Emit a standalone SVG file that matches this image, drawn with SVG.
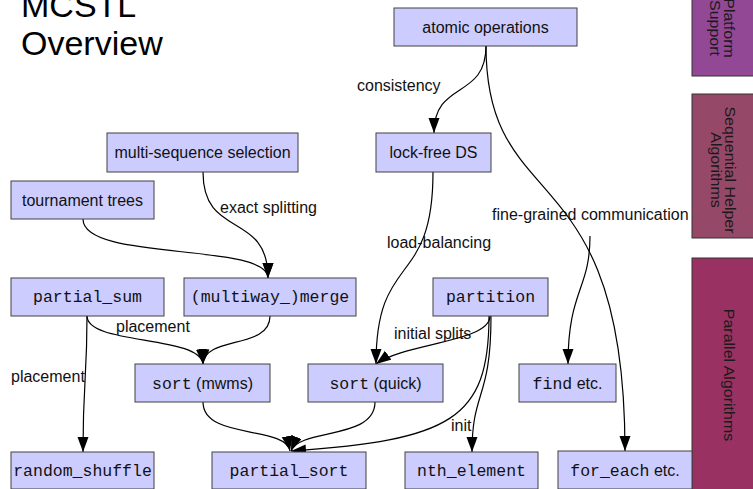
<svg xmlns="http://www.w3.org/2000/svg" width="753" height="489" viewBox="0 0 753 489">
<style>
.box{fill:#ccccff;stroke:#404040;stroke-width:1}
.t{font-family:"Liberation Sans",Arial,sans-serif;font-size:16px;fill:#111;text-anchor:middle}
.m{font-family:"Liberation Mono","Courier New",monospace;font-size:16.5px}
.lbl{font-family:"Liberation Sans",Arial,sans-serif;font-size:16px;fill:#111}
.e{fill:none;stroke:#000;stroke-width:1.2;marker-end:url(#ah)}
.bar{stroke:#333;stroke-width:1}
.bt{font-family:"Liberation Sans",Arial,sans-serif;font-size:16px;fill:#1a1a1a;text-anchor:middle}
.title{font-family:"Liberation Sans",Arial,sans-serif;font-size:34px;fill:#000}
</style>
<defs>
<marker id="ah" markerUnits="userSpaceOnUse" markerWidth="16" markerHeight="12" refX="15" refY="5.5" orient="auto"><path d="M0,0 L15,5.5 L0,11 z" fill="#000"/></marker>
</defs>
<rect width="753" height="489" fill="#fff"/>
<g id="title">
<text class="title" x="21" y="17">MCSTL</text>
<text class="title" x="21" y="55">Overview</text>
</g>
<g id="bars">
<g id="platform-support">
<rect class="bar" x="692" y="-30" width="70" height="106" fill="#924895"/>
<text class="bt" transform="translate(724,28) rotate(90) scale(1,0.9)">Platform</text>
<text class="bt" transform="translate(710,28) rotate(90) scale(1,0.9)">Support</text>
</g>
<g id="sequential-helper">
<rect class="bar" x="692" y="94" width="70" height="144" fill="#954868"/>
<text class="bt" transform="translate(725,170) rotate(90) scale(1,0.9)">Sequential Helper</text>
<text class="bt" transform="translate(711,170) rotate(90) scale(1,0.9)">Algorithms</text>
</g>
<g id="parallel-algorithms">
<rect class="bar" x="692" y="258" width="70" height="240" fill="#993262"/>
<text class="bt" transform="translate(724,375) rotate(90) scale(1,0.9)">Parallel Algorithms</text>
</g>
</g>
<g id="connectors">
<path class="e" d="M486,46 C486,100 434,80 434,133"/>
<path class="e" d="M486,46 C486,220 625,150 625,451"/>
<path class="e" d="M590,236 C590,290 568,290 568,364"/>
<path class="e" d="M203,172 C203,240 268,210 268,278"/>
<path class="e" d="M83,219 C83,262 268,242 268,278"/>
<path class="e" d="M433,172 C433,290 376,250 376,364"/>
<path class="e" d="M490,316 C490,342 405,343 376,364"/>
<path class="e" d="M489,316 C489,420 450,440 291,451"/>
<path class="e" d="M491,316 C491,400 472,390 472,452"/>
<path class="e" d="M375,402 C375,440 300,428 291,451"/>
<path class="e" d="M203,402 C203,440 285,425 290,451"/>
<path class="e" d="M87,316 C87,345 200,335 203,364"/>
<path class="e" d="M270,316 C270,350 205,335 203,364"/>
<path class="e" d="M87,316 C87,380 83,380 83,452"/>
<text class="lbl" x="357" y="91">consistency</text>
<text class="lbl" x="492" y="220">fine-grained communication</text>
<text class="lbl" x="220" y="213">exact splitting</text>
<text class="lbl" x="387" y="248">load-balancing</text>
<text class="lbl" x="394" y="339">initial splits</text>
<text class="lbl" x="116" y="332">placement</text>
<text class="lbl" x="11" y="382">placement</text>
<text class="lbl" x="451" y="431">init</text>
</g>
<g id="atomic-operations"><rect class="box" x="394" y="8" width="183" height="38"/><text class="t" x="485.5" y="33">atomic operations</text></g>
<g id="multi-sequence-selection"><rect class="box" x="107" y="133" width="191" height="39"/><text class="t" x="202.5" y="158">multi-sequence selection</text></g>
<g id="lock-free-ds"><rect class="box" x="376" y="133" width="115" height="39"/><text class="t" x="433.5" y="158">lock-free DS</text></g>
<g id="tournament-trees"><rect class="box" x="11" y="181" width="143" height="38"/><text class="t" x="82.5" y="206">tournament trees</text></g>
<g id="partial-sum"><rect class="box" x="11" y="278" width="153" height="38"/><text class="t m" x="87.5" y="302">partial_sum</text></g>
<g id="multiway-merge"><rect class="box" x="184" y="278" width="172" height="38"/><text class="t m" x="270" y="302">(multiway_)merge</text></g>
<g id="partition"><rect class="box" x="433" y="278" width="115" height="38"/><text class="t m" x="490.5" y="302">partition</text></g>
<g id="sort-mwms"><rect class="box" x="135" y="364" width="135" height="38"/><text class="t" x="202.5" y="389"><tspan class="m">sort</tspan> (mwms)</text></g>
<g id="sort-quick"><rect class="box" x="308" y="364" width="135" height="38"/><text class="t" x="375.5" y="389"><tspan class="m">sort</tspan> (quick)</text></g>
<g id="find"><rect class="box" x="519" y="364" width="97" height="38"/><text class="t" x="567.5" y="389"><tspan class="m">find</tspan> etc.</text></g>
<g id="random-shuffle"><rect class="box" x="11" y="452" width="143" height="37"/><text class="t m" x="82.5" y="476">random_shuffle</text></g>
<g id="partial-sort"><rect class="box" x="212" y="452" width="154" height="37"/><text class="t m" x="289" y="476">partial_sort</text></g>
<g id="nth-element"><rect class="box" x="405" y="452" width="133" height="37"/><text class="t m" x="471.5" y="476">nth_element</text></g>
<g id="for-each"><rect class="box" x="558" y="451" width="134" height="38"/><text class="t" x="625" y="476"><tspan class="m">for_each</tspan> etc.</text></g>
</svg>
